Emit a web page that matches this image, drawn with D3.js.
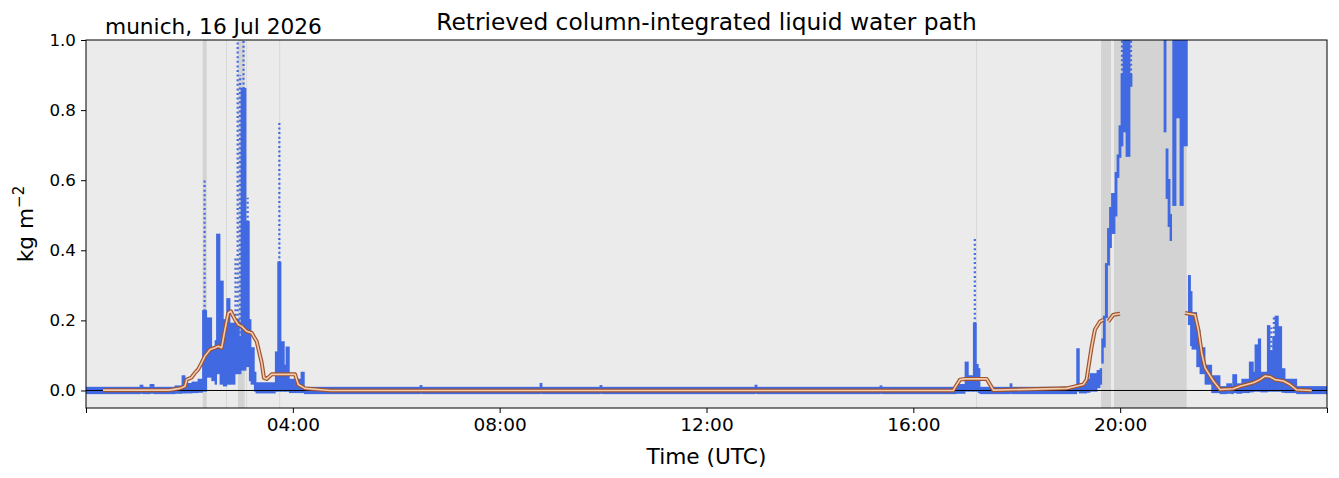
<!DOCTYPE html>
<html><head><meta charset="utf-8">
<script src="https://cdn.jsdelivr.net/npm/d3@7"></script>
<style>body{margin:0;background:#fff}svg{display:block}text{font-family:"DejaVu Sans",sans-serif}</style>
</head><body>
<svg id="chart" width="1339" height="478"></svg>
<script>
// ---------- data ----------
const siteLabel = "munich, 16 Jul 2026";
const titleText = "Retrieved column-integrated liquid water path";
const xTickHours = [0, 4, 8, 12, 16, 20, 24];
const xTickLabels = ["", "04:00", "08:00", "12:00", "16:00", "20:00", ""];
const yTicks = [0.0, 0.2, 0.4, 0.6, 0.8, 1.0];

// flagged (rain) periods, hours UTC
const flagStart = [2.257, 2.708, 2.940, 3.096, 3.735, 17.214, 19.630, 19.880];
const flagEnd   = [2.334, 2.718, 3.069, 3.104, 3.743, 17.222, 19.823, 21.287];

// observed LWP, binned: bin start (h), lower / upper of dense values, top of sparse values
const obsTime = [0.000,1.044,1.102,1.238,1.315,1.721,1.857,1.915,2.050,2.166,2.253,2.334,2.431,2.495,2.524,2.591,2.655,2.721,2.785,2.882,2.901,2.965,2.998,3.094,3.158,3.191,3.255,3.288,3.661,3.707,3.771,3.835,3.868,3.932,4.158,4.222,6.459,6.498,8.780,8.819,9.940,9.979,12.938,12.977,15.355,15.394,16.825,17.000,17.063,17.160,17.218,17.256,17.289,17.870,17.908,19.159,19.210,19.353,19.417,19.552,19.610,19.643,19.674,19.713,19.755,19.794,19.832,19.900,19.939,19.977,20.016,20.055,20.113,20.190,20.229,20.848,20.887,20.926,20.964,20.993,21.016,21.080,21.157,21.221,21.299,21.318,21.360,21.389,21.480,21.544,21.641,21.770,21.931,22.060,22.157,22.176,22.254,22.351,22.497,22.575,22.607,22.671,22.718,22.846,22.898,22.950,22.995,23.058,23.124,23.188,23.414,24.000];
const obsLo = [-0.007,-0.006,-0.007,-0.006,-0.007,-0.006,-0.005,-0.005,-0.004,-0.003,0.000,0.040,0.030,0.020,0.050,0.020,0.015,0.020,0.020,0.050,0.050,0.050,0.060,0.070,0.030,0.020,0.000,-0.005,0.000,0.000,0.000,0.000,0.000,-0.004,-0.004,-0.007,-0.006,-0.007,-0.006,-0.007,-0.006,-0.007,-0.006,-0.007,-0.006,-0.007,-0.006,0.000,0.000,0.000,0.000,-0.004,-0.007,-0.006,-0.007,0.000,-0.005,-0.003,0.000,0.010,0.020,0.080,0.126,0.210,0.360,0.410,0.450,0.500,0.610,0.667,0.700,0.740,0.670,0.870,null,0.740,0.550,0.470,0.430,null,0.530,0.780,0.530,0.700,null,0.190,0.130,0.120,0.070,0.050,0.020,-0.004,-0.007,-0.006,-0.007,-0.004,-0.006,-0.004,-0.002,0.000,0.000,0.000,-0.002,0.000,0.000,0.000,0.000,0.000,-0.003,-0.004,-0.007,null];
const obsHi = [0.007,0.013,0.007,0.015,0.007,0.011,0.040,0.018,0.022,0.030,0.226,0.205,0.120,0.140,0.444,0.310,0.200,0.260,0.190,0.200,0.200,0.150,0.860,0.480,0.200,0.120,0.050,0.020,0.108,0.364,0.137,0.070,0.122,0.030,0.050,0.007,0.012,0.007,0.018,0.007,0.012,0.007,0.013,0.007,0.011,0.007,0.015,0.079,0.040,0.190,0.072,0.060,0.007,0.017,0.007,0.117,0.015,0.030,0.046,0.055,0.060,0.145,0.210,0.360,0.460,0.520,0.560,0.620,0.670,0.753,0.900,1.000,1.000,0.900,null,1.000,0.687,0.600,0.500,null,1.000,1.000,1.000,1.000,null,0.326,0.280,0.220,0.170,0.120,0.070,0.040,0.009,0.017,0.009,0.043,0.017,0.030,0.079,0.050,0.128,0.145,0.050,0.183,0.110,0.150,0.210,0.180,0.060,0.030,0.009,null];
const obsTop = [null,null,null,null,null,null,null,null,null,null,0.600,null,null,null,null,null,null,null,null,0.380,1.000,0.900,1.000,0.550,null,null,null,null,null,0.763,null,null,null,null,null,null,null,null,null,null,null,null,null,null,null,null,null,null,null,0.435,null,null,null,null,null,null,null,null,null,null,null,null,null,null,null,null,null,null,null,null,1.000,null,null,1.000,null,null,null,null,null,null,null,null,null,null,null,null,null,null,null,null,null,null,null,null,null,null,null,null,null,null,null,null,null,null,0.180,0.212,null,null,null,null,null,null];

// smoothed LWP (null = gap)
const smoothTime = [0.33,1.60,1.82,1.915,1.947,2.04,2.11,2.17,2.236,2.30,2.40,2.495,2.559,2.624,2.688,2.752,2.80,2.882,2.946,3.011,3.108,3.205,3.301,3.398,3.442,3.495,3.591,4.042,4.106,4.235,4.719,16.77,16.903,17.0,17.419,17.547,18.966,19.287,19.35,19.45,19.513,19.61,19.674,19.72,19.771,19.868,19.997,20.1,21.254,21.447,21.511,21.577,21.641,21.705,21.802,21.931,22.188,22.32,22.575,22.704,22.801,22.898,22.995,23.156,23.285,23.414,23.705];
const smoothVal = [0.001,0.001,0.006,0.012,0.031,0.037,0.051,0.060,0.079,0.098,0.117,0.122,0.126,0.122,0.174,0.221,0.226,0.202,0.188,0.183,0.169,0.164,0.140,0.079,0.036,0.033,0.046,0.046,0.017,0.006,0.000,0.000,0.031,0.033,0.033,0.001,0.006,0.017,0.031,0.126,0.174,0.197,0.202,null,0.197,0.216,0.219,null,0.221,0.216,0.174,0.107,0.065,0.050,0.027,0.003,0.005,0.012,0.022,0.031,0.041,0.039,0.031,0.027,0.017,0.002,0.000];

// ---------- layout ----------
const L = 86, R = 1327, T = 40, B = 408;
const svg = d3.select("#chart");
const x = d3.scaleLinear().domain([0, 24]).range([L, R]);
const y = d3.scaleLinear().domain([-0.05, 1.0]).range([B, T]);

svg.append("defs").append("clipPath").attr("id", "clip")
  .append("rect").attr("x", L).attr("y", T).attr("width", R - L).attr("height", B - T);

svg.append("rect").attr("x", L).attr("y", T).attr("width", R - L).attr("height", B - T).attr("fill", "#ebebeb");

const g = svg.append("g").attr("clip-path", "url(#clip)");

// flag bands
g.selectAll("rect.flag").data(flagStart.map((s, i) => [s, flagEnd[i]])).join("rect")
  .attr("class", "flag")
  .attr("x", d => x(d[0])).attr("y", T)
  .attr("width", d => Math.max(1, x(d[1]) - x(d[0])))
  .attr("height", B - T)
  .attr("fill", d => (d[1] - d[0]) < 0.03 ? "#d9d9d9" : "#d3d3d3");

// observations
const bins = obsTime.slice(0, -1).map((t, i) => ({
  t0: t, t1: obsTime[i + 1], lo: obsLo[i], hi: obsHi[i], top: obsTop[i]
})).filter(d => d.lo !== null);

const blue = "#4169e1";
g.selectAll("rect.obs").data(bins).join("rect")
  .attr("class", "obs")
  .attr("x", d => x(d.t0) - 0.4)
  .attr("width", d => Math.max(2.4, x(d.t1) - x(d.t0) + 0.8))
  .attr("y", d => y(d.hi) - 1.2)
  .attr("height", d => y(d.lo) - y(d.hi) + 2.4)
  .attr("fill", blue);

g.selectAll("line.sparse").data(bins.filter(d => d.top !== null)).join("line")
  .attr("class", "sparse")
  .attr("x1", d => (x(d.t0) + x(d.t1)) / 2).attr("x2", d => (x(d.t0) + x(d.t1)) / 2)
  .attr("y1", d => y(d.hi)).attr("y2", d => y(d.top))
  .attr("stroke", blue).attr("stroke-width", 2.2)
  .attr("stroke-dasharray", "2 2.6");

// zero line
g.append("line").attr("x1", L).attr("x2", R).attr("y1", y(0)).attr("y2", y(0))
  .attr("stroke", "#000").attr("stroke-width", 1);

// smoothed line
const pts = smoothTime.map((t, i) => [t, smoothVal[i]]);
const line = d3.line().defined(d => d[1] !== null).x(d => x(d[0])).y(d => y(d[1]));
g.append("path").attr("d", line(pts)).attr("fill", "none")
  .attr("stroke", "#a0522d").attr("stroke-width", 4).attr("stroke-linejoin", "round");
g.append("path").attr("d", line(pts)).attr("fill", "none")
  .attr("stroke", "#f2cdb0").attr("stroke-width", 1.6).attr("stroke-linejoin", "round");

// frame
svg.append("rect").attr("x", L).attr("y", T).attr("width", R - L).attr("height", B - T)
  .attr("fill", "none").attr("stroke", "#000").attr("stroke-width", 1);

// axes
const xAxis = d3.axisBottom(x).tickValues(xTickHours)
  .tickFormat((d, i) => xTickLabels[i]).tickSize(5).tickPadding(5);
const gx = svg.append("g").attr("transform", `translate(0,${B})`).call(xAxis);
gx.select(".domain").remove();
gx.selectAll("text").attr("font-size", 18.5).attr("fill", "#000").attr("font-family", "DejaVu Sans");

const yAxis = d3.axisLeft(y).tickValues(yTicks).tickFormat(d3.format(".1f")).tickSize(5).tickPadding(5);
const gy = svg.append("g").attr("transform", `translate(${L},0)`).call(yAxis);
gy.select(".domain").remove();
gy.selectAll("text").attr("font-size", 16.7).attr("fill", "#000").attr("font-family", "DejaVu Sans");

// texts
svg.append("text").attr("x", (L + R) / 2).attr("y", 30).attr("text-anchor", "middle")
  .attr("font-size", 23.3).text(titleText);
svg.append("text").attr("x", 105).attr("y", 34).attr("font-size", 21.7).text(siteLabel);
svg.append("text").attr("x", (L + R) / 2).attr("y", 464).attr("text-anchor", "middle")
  .attr("font-size", 21.7).text("Time (UTC)");
const yl = svg.append("text").attr("transform", "translate(33,224) rotate(-90)")
  .attr("text-anchor", "middle").attr("font-size", 21.7);
yl.append("tspan").text("kg m");
yl.append("tspan").attr("font-size", 15).attr("dy", -9).text("−2");
</script>
</body></html>
